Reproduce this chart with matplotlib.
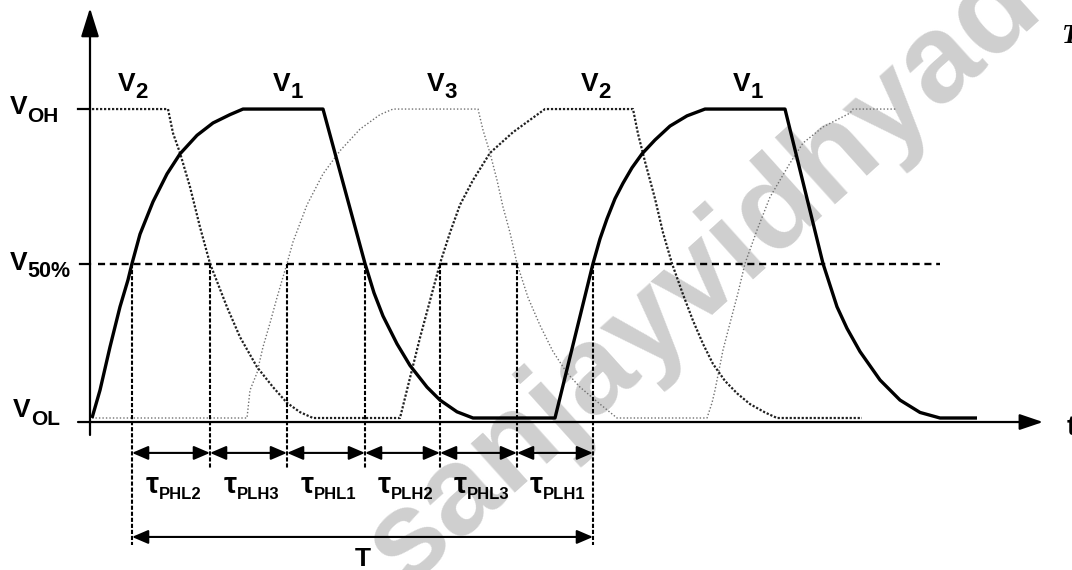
import numpy as np
import matplotlib.pyplot as plt

plt.rcParams['font.family'] = ['Liberation Sans', 'DejaVu Sans']
plt.rcParams['font.weight'] = 'bold'

# ring oscillator node voltages, normalised: 0 = V_OL, 1 = V_OH
t_v1 = [92, 100, 110, 120, 128, 132, 140, 153, 167, 180, 197, 213, 230, 243,
        323, 365, 374, 383, 397, 410, 427, 440, 457, 473,
        555, 593, 600, 607, 615, 623, 632, 642, 655, 670, 687, 705,
        785, 823, 830, 837, 847, 860, 880, 900, 920, 940, 977]
v_v1 = [0.0, 0.09, 0.23, 0.36, 0.447, 0.5, 0.595, 0.7, 0.79, 0.855, 0.915, 0.955, 0.982, 1.0,
        1.0, 0.5, 0.405, 0.33, 0.24, 0.17, 0.10, 0.058, 0.02, 0.0,
        0.0, 0.5, 0.58, 0.645, 0.71, 0.76, 0.81, 0.855, 0.9, 0.945, 0.978, 1.0,
        1.0, 0.5, 0.43, 0.36, 0.29, 0.215, 0.123, 0.058, 0.018, 0.0, 0.0]

t_v2 = [92, 168, 173, 180, 190, 200, 210,
        227, 240, 257, 273, 287, 300, 313,
        400, 410, 420, 430, 440, 450, 460, 473, 490, 513, 533, 545,
        633, 638, 645, 655, 663, 672,
        683, 693, 703, 713, 725, 737, 750, 765, 777, 862]
v_v2 = [1.0, 1.0, 0.922, 0.858, 0.748, 0.618, 0.5,
        0.359, 0.262, 0.165, 0.10, 0.049, 0.019, 0.0,
        0.0, 0.13, 0.26, 0.38, 0.5, 0.6, 0.69, 0.77, 0.858, 0.925, 0.972, 1.0,
        1.0, 0.92, 0.83, 0.71, 0.6, 0.5,
        0.40, 0.315, 0.24, 0.175, 0.12, 0.08, 0.045, 0.018, 0.0, 0.0]

t_v3 = [92, 247, 250, 257, 263, 270, 277, 287,
        293, 307, 323, 340, 360, 380, 393,
        478, 483, 490, 497, 503, 510, 517,
        528, 540, 553, 567, 580, 600, 617,
        707, 712, 715, 723, 730, 738, 745,
        757, 770, 790, 803, 823, 850, 853, 897]
v_v3 = [0.0, 0.0, 0.09, 0.146, 0.23, 0.307, 0.39, 0.5,
        0.57, 0.69, 0.79, 0.865, 0.935, 0.982, 1.0,
        1.0, 0.932, 0.858, 0.77, 0.683, 0.6, 0.5,
        0.39, 0.3, 0.215, 0.146, 0.10, 0.045, 0.0,
        0.0, 0.049, 0.09, 0.22, 0.307, 0.405, 0.5,
        0.608, 0.715, 0.825, 0.89, 0.942, 0.987, 1.0, 1.0]

# 50% crossing instants and the delays between them
t50 = [132, 210, 287, 365, 440, 517, 593]
delay_names = ['PHL2', 'PLH3', 'PHL1', 'PLH2', 'PHL3', 'PLH1']

# node labels above the waveforms
node_x = [118, 273, 427, 581, 733]
node_sub = ['2', '1', '3', '2', '1']

fig = plt.figure(figsize=(10.72, 5.7), dpi=100)
ax = fig.add_axes([0, 0, 1, 1])
ax.set_xlim(0, 1072)
ax.set_ylim(-0.492, 1.353)
ax.axis('off')

# watermark
ax.text(405, -0.55, 'sanjayvidhyad', fontsize=90, color='#cfcfcf', weight='bold',
        rotation=42, rotation_mode='anchor', ha='left', va='baseline', zorder=0)

# axes with arrow heads
ax.annotate('', xy=(1043, -0.013), xytext=(78, -0.013),
            arrowprops=dict(arrowstyle='-|>,head_length=0.65,head_width=0.22',
                            mutation_scale=22, lw=1.6, color='k', shrinkA=0, shrinkB=0))
ax.annotate('', xy=(90, 1.327), xytext=(90, -0.055),
            arrowprops=dict(arrowstyle='-|>,head_length=0.8,head_width=0.25',
                            mutation_scale=22, lw=1.6, color='k', shrinkA=0, shrinkB=0))
ax.plot([78, 90], [1.0, 1.0], color='k', lw=1.6)
ax.plot([80, 90], [0.5, 0.5], color='k', lw=1.6)

# 50% reference
ax.plot([98, 940], [0.5, 0.5], color='k', lw=1.7, linestyle=(0, (3, 2)))

# waveforms
ax.plot(t_v3, v_v3, color='#707070', lw=1.0, linestyle=(0, (1, 1.5)))
ax.plot(t_v2, v_v2, color='#202020', lw=1.6, linestyle=(0, (1, 0.8)))
ax.plot(t_v1, v_v1, color='k', lw=2.4, solid_capstyle='butt', solid_joinstyle='round')

# crossing markers
for i, t in enumerate(t50):
    bottom = -0.411 if i in (0, len(t50) - 1) else -0.162
    ax.plot([t, t], [0.5, bottom], color='k', lw=1.5, linestyle=(0, (2, 0.9)))

arrow_kw = dict(arrowstyle='<|-|>,head_length=0.7,head_width=0.3', mutation_scale=14,
                lw=1.5, color='k', shrinkA=0, shrinkB=0)
for i, name in enumerate(delay_names):
    ax.annotate('', xy=(t50[i + 1], -0.113), xytext=(t50[i], -0.113), arrowprops=arrow_kw)
    mid = (t50[i] + t50[i + 1]) / 2
    tau = ax.text(mid - 25, -0.243, 'τ', fontsize=21, ha='left', va='baseline')
    ax.annotate(name, xy=(1, 0), xycoords=tau, xytext=(0, 0), textcoords='offset points',
                fontsize=12, ha='left', va='baseline')

ax.annotate('', xy=(t50[-1], -0.385), xytext=(t50[0], -0.385), arrowprops=arrow_kw)
ax.text((t50[0] + t50[-1]) / 2, -0.455, 'T', fontsize=19, ha='center', va='center')


def sub_label(x, y, main, sub, size, sub_size, dx, dy):
    t = ax.text(x, y, main, fontsize=size, ha='left', va='baseline')
    ax.annotate(sub, xy=(1, 0), xycoords=t, xytext=(dx, dy), textcoords='offset points',
                fontsize=sub_size, ha='left', va='baseline')


sub_label(10, 0.984, 'V', 'OH', 19, 15, 0, -2)
sub_label(10, 0.478, 'V', '50%', 19, 15.5, 0, -1)
sub_label(13, 0.003, 'V', 'OL', 19, 15, 0, -2)
for x, s in zip(node_x, node_sub):
    sub_label(x, 1.058, 'V', s, 19, 16, 0, -1)

# caption fragments at the right edge
ax.text(1062, 1.214, 'T', fontsize=20, family='Liberation Serif', style='italic',
        weight='bold', ha='left', va='baseline')
ax.text(1067, -0.055, 't', fontsize=20, ha='left', va='baseline')

fig.savefig('out.png', dpi=100)
